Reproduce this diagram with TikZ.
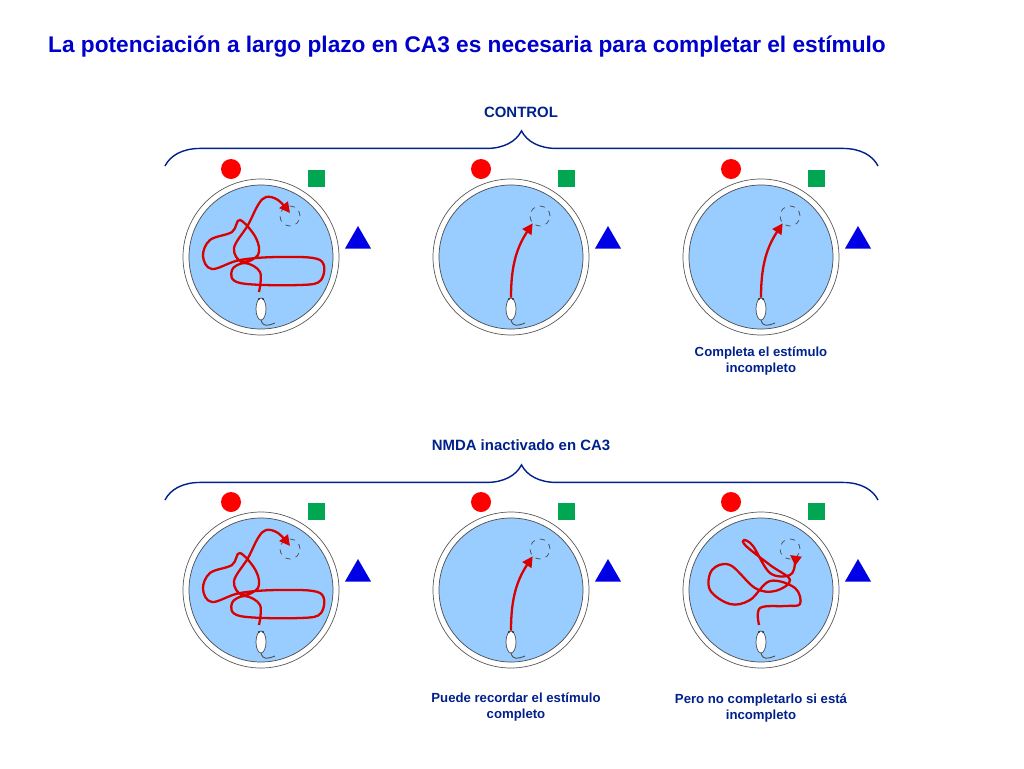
\documentclass[tikz,border=0pt]{standalone}
\usepackage{fontspec}
\setmainfont{Liberation Sans}
\usetikzlibrary{decorations.pathreplacing,arrows.meta,shapes.geometric}
\definecolor{ttl}{RGB}{0,0,204}
\definecolor{lbl}{RGB}{0,32,140}
\definecolor{water}{RGB}{153,204,255}
\tikzset{
  pathline/.style={draw=red!85!black,line width=1.3pt,-{Triangle[length=6pt,width=6pt]}},
  lbltext/.style={text=lbl,font=\bfseries\fontsize{7.5}{9}\selectfont,align=center},
  brc/.style={decorate,decoration={brace,amplitude=20pt},draw=lbl,line width=0.8pt}
}
\newcommand{\mypool}[3]{% name, x, y
  \node[circle,draw=gray!70!black,fill=white,minimum size=156*0.02cm,inner sep=0] (#1) at (#2,#3) {};
  \node[circle,draw=gray!60!black,fill=water,minimum size=144*0.02cm,inner sep=0] (#1w) at (#2,#3) {};
  \node[circle,draw=gray!60!black,dashed,minimum size=20*0.02cm,inner sep=0] (#1t) at ({#2+29},{#3-41}) {};
  \node[ellipse,draw=gray!60!black,fill=white,minimum width=10*0.02cm,minimum height=22*0.02cm,inner sep=0] (#1m) at (#2,{#3+52}) {};
  \fill[black] ({#2-2},{#3+42}) circle (0.5pt) ({#2+2},{#3+42}) circle (0.5pt);
  \draw[gray!60!black,line width=0.5pt] ({#2},{#3+63}) .. controls ({#2+2},{#3+70}) and ({#2+6},{#3+69}) .. ({#2+14},{#3+66});
  \node[circle,fill=red,minimum size=20*0.02cm,inner sep=0] (#1c) at ({#2-30},{#3-88}) {};
  \node[fill={rgb,255:red,0;green,166;blue,81},minimum size=17*0.02cm,inner sep=0] (#1s) at ({#2+55},{#3-79}) {};
  \node[regular polygon,regular polygon sides=3,fill={rgb,255:red,0;green,0;blue,230},minimum size=30*0.02cm,inner sep=0] (#1r) at ({#2+97},{#3-16}) {};
}
\begin{document}
\begin{tikzpicture}[x=0.02cm,y=-0.02cm]
\useasboundingbox (0,0) rectangle (1024,768);
\node[text=ttl,font=\bfseries\fontsize{12.9}{15}\selectfont] (title) at (467,47) {La potenciación a largo plazo en CA3 es necesaria para completar el estímulo};

\node[lbltext,font=\bfseries\fontsize{8.5}{10}\selectfont] (hc) at (521,112) {CONTROL};
\draw[brc] (165,166) -- (878,166);
\node[lbltext,font=\bfseries\fontsize{8.5}{10}\selectfont] (hn) at (521,445) {NMDA inactivado en CA3};
\draw[brc] (165,500) -- (878,500);

\mypool{a}{261}{257}
\mypool{b}{511}{257}
\mypool{c}{761}{257}
\mypool{d}{261}{590}
\mypool{e}{511}{590}
\mypool{f}{761}{590}

\foreach \yy in {0,333}{
\begin{scope}[yshift={\yy*-0.02cm}]
\draw[pathline] plot[smooth,tension=0.6] coordinates {(259,292) (260,272) (245,263) (232,270) (240,283) (300,285) (321,280) (320,260) (280,257) (240,260) (212,269) (203,256) (210,240) (232,232) (240,220) (256,238) (258,255) (242,262) (234,248) (248,225) (258,205) (266,197) (278,200) (290,213)};
\end{scope}
}
\draw[pathline] (bm.north) .. controls (511,270) and (515,250) .. (bt.south west);
\draw[pathline] (cm.north) .. controls (761,270) and (765,250) .. (ct.south west);
\draw[pathline] (em.north) .. controls (511,603) and (515,583) .. (et.south west);
\draw[pathline] plot[smooth,tension=0.6] coordinates {(759,625) (760,608) (785,606) (800,604) (795,588) (770,581) (750,600) (730,604) (710,590) (712,570) (730,565) (755,588) (775,591) (790,580) (770,565) (746,546) (744,540) (753,546) (770,573) (790,575) (795,562) (790,555)};

\node[lbltext] (lc) at (761,361) {Completa el estímulo\\incompleto};
\node[lbltext] (le) at (516,707) {Puede recordar el estímulo\\completo};
\node[lbltext] (lf) at (761,708) {Pero no completarlo si está\\incompleto};
\end{tikzpicture}
\end{document}
